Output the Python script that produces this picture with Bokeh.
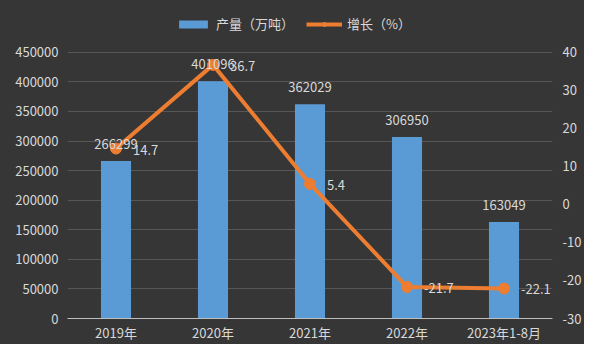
from bokeh.plotting import figure
from bokeh.models import (Range1d, FactorRange, LinearAxis, FixedTicker, BasicTickFormatter,
                          ColumnDataSource, LabelSet, Legend, LegendItem)
from bokeh.core.properties import value
from bokeh.embed import file_html
from bokeh.resources import INLINE

categories = ["2019年", "2020年", "2021年", "2022年", "2023年1-8月"]
output = [266299, 401096, 362029, 306950, 163049]
growth = [14.7, 36.7, 5.4, -21.7, -22.1]
left_ticks = [0, 50000, 100000, 150000, 200000, 250000, 300000, 350000, 400000, 450000]
right_ticks = [-30, -20, -10, 0, 10, 20, 30, 40]

FONT = "Noto Sans CJK SC"
TXT = "#d9d9d9"
BG = "#363636"

W, H = 584, 344
F_LEFT, F_RIGHT, F_TOP, F_BOTTOM = 67, 557, 0, 319   # frame in pixels
AXIS_TOP = 52                                        # pixel where 450000 / 40 sits
scale = (F_BOTTOM - F_TOP) / (F_BOTTOM - AXIS_TOP)
left_end = left_ticks[-1] * scale
right_end = right_ticks[0] + (right_ticks[-1] - right_ticks[0]) * scale

src = ColumnDataSource(dict(
    cat=categories, out=output, gr=growth,
    out_lbl=[str(v) for v in output],
    gr_lbl=[str(v) for v in growth],
))

p = figure(width=W, height=H, output_backend="svg", toolbar_location=None,
           x_range=FactorRange(factors=categories, range_padding=0),
           y_range=Range1d(0, left_end),
           min_border_left=F_LEFT, min_border_right=W - F_RIGHT,
           min_border_top=F_TOP, min_border_bottom=H - F_BOTTOM)
p.styles = {"background-color": BG}
p.background_fill_alpha = 0
p.border_fill_color = BG
p.outline_line_color = None
p.extra_y_ranges = {"g": Range1d(right_ticks[0], right_end)}

bars = p.vbar(x="cat", top="out", width=0.31, source=src, color="#5b9bd5", line_color=None)
line = p.line(x="cat", y="gr", source=src, y_range_name="g", line_color="#ed7d31", line_width=4)
pts = p.scatter(x="cat", y="gr", source=src, y_range_name="g", size=11,
                fill_color="#ed7d31", line_color="#ed7d31")

# axes
p.xaxis.axis_line_color = "#bfbfbf"
p.xaxis.major_tick_line_color = None
p.xaxis.major_tick_out = 0
p.xaxis.minor_tick_line_color = None
p.xaxis.major_label_text_color = TXT
p.xaxis.major_label_text_font = FONT
p.xaxis.major_label_text_font_size = "13px"
p.xaxis.major_label_standoff = 4
p.xgrid.grid_line_color = None

p.yaxis.ticker = FixedTicker(ticks=left_ticks)
p.yaxis.formatter = BasicTickFormatter(use_scientific=False)
p.yaxis.axis_line_color = None
p.yaxis.major_tick_line_color = None
p.yaxis.major_tick_out = 0
p.yaxis.minor_tick_line_color = None
p.yaxis.major_label_text_color = TXT
p.yaxis.major_label_text_font = FONT
p.yaxis.major_label_text_font_size = "13px"
p.yaxis.major_label_standoff = 9
p.ygrid.grid_line_color = "#575757"
p.ygrid.grid_line_width = 1

raxis = LinearAxis(y_range_name="g", ticker=FixedTicker(ticks=right_ticks))
raxis.major_label_overrides = {t: str(t) for t in right_ticks}
raxis.axis_line_color = None
raxis.major_tick_line_color = None
raxis.major_tick_out = 0
raxis.minor_tick_line_color = None
raxis.major_label_text_color = TXT
raxis.major_label_text_font = FONT
raxis.major_label_text_font_size = "13px"
raxis.major_label_standoff = 10
p.add_layout(raxis, "right")

# data labels
bl = LabelSet(x="cat", y="out", text="out_lbl", source=src, text_align="center",
              text_baseline="middle", y_offset=17, text_color=TXT,
              text_font=value(FONT), text_font_size="13px")
gl = LabelSet(x="cat", y="gr", text="gr_lbl", source=src, y_range_name="g",
              text_align="left", text_baseline="middle", x_offset=17, y_offset=-1,
              text_color=TXT, text_font=value(FONT), text_font_size="13px")
p.add_layout(bl)
p.add_layout(gl)

legend = Legend(items=[LegendItem(label="产量（万吨）", renderers=[bars]),
                       LegendItem(label="增长（%）", renderers=[line, pts])],
                orientation="horizontal", location=(108, 285),
                padding=0, margin=0, spacing=12, label_standoff=5,
                glyph_width=36, glyph_height=10,
                background_fill_alpha=0, border_line_color=None,
                label_text_color=TXT, label_text_font=FONT, label_text_font_size="13px")
p.add_layout(legend, "center")

open("out.html", "w").write(file_html(p, INLINE))
